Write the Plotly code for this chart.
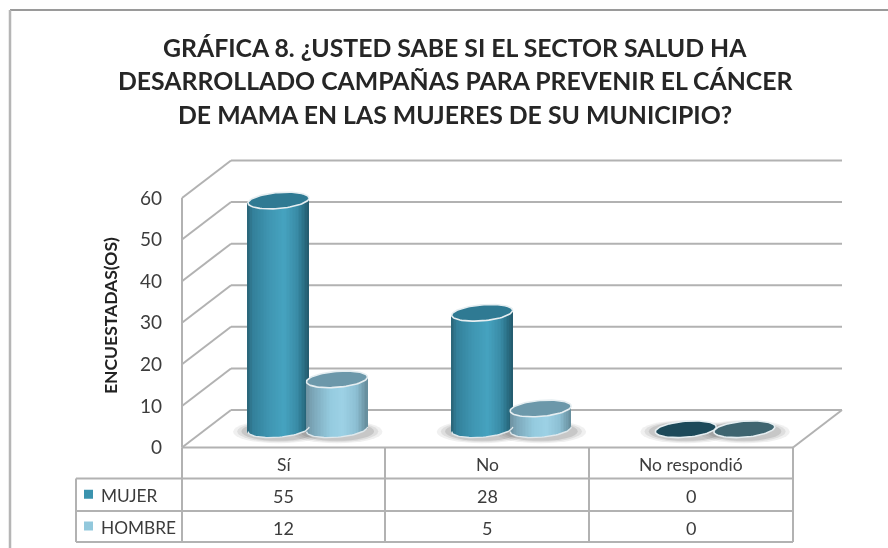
import numpy as np
import plotly.graph_objects as go

categories = ["Sí", "No", "No respondió"]
mujer = [55, 28, 0]
hombre = [12, 5, 0]
tick_vals = [0, 10, 20, 30, 40, 50, 60]
title_lines = ["GRÁFICA 8. ¿USTED SABE SI EL SECTOR SALUD HA",
               "DESARROLLADO CAMPAÑAS PARA PREVENIR EL CÁNCER",
               "DE MAMA EN LAS MUJERES DE SU MUNICIPIO?"]

W, H = 888, 548
X0, X3 = 182.0, 793.0
Y0, Y60 = 447.5, 198.0
UX = (X3 - X0) / 3
UY = (Y0 - Y60) / 60
DX = 49 / UX
DY = 37.5 / UY
GRID = "#b2b2b2"
TXT = "#3c3c3c"
px = lambda p: (p - X0) / UX
py = lambda p: (Y0 - p) / UY

fig = go.Figure()
shapes = []
annotations = []


def line(x0, y0, x1, y1, color=GRID, width=2):
    shapes.append(dict(type="line", xref="x", yref="y", x0=x0, y0=y0, x1=x1, y1=y1,
                       line=dict(color=color, width=width), layer="below"))


# walls / floor
for v in tick_vals:
    line(0, v, DX, v + DY)
    line(DX, v + DY, 3 + DX, v + DY)
line(0, 0, 0, 60)
line(0, 0, 3, 0)
line(3, 0, 3 + DX, DY)

# cylinders
A = 30.5 / UX
E = 8.0 / UY
TILT = 2.4 / UY
BASE = DY / 2 - 0.5 / UY
N = 40
u = (np.arange(N) + 0.5) / N * 2 - 1
sw = 2 * A / N * 1.15

stops_m = [(-1, "#2a6377"), (-0.82, "#33809a"), (-0.3, "#3f96b2"), (0.2, "#46a3c0"),
           (0.62, "#3a8ca7"), (0.86, "#2a6f85"), (1, "#245a6c")]
stops_h = [(-1, "#6d909f"), (-0.75, "#7da9bb"), (-0.2, "#95cbdf"), (0.2, "#9dd2e6"),
           (0.65, "#8dbfd3"), (1, "#668d9c")]


def hexrgb(c):
    return np.array([int(c[i:i + 2], 16) for i in (1, 3, 5)], float)


def grad(stops):
    xs = [s[0] for s in stops]
    cols = np.array([hexrgb(s[1]) for s in stops])
    out = []
    for t in u:
        c = [np.interp(t, xs, cols[:, k]) for k in range(3)]
        out.append("rgb(%d,%d,%d)" % tuple(c))
    return out


series = [("MUJER", mujer, px(278.5), stops_m, "#2f7a93", "#1d4a5a"),
          ("HOMBRE", hombre, px(337), stops_h, "#6c98aa", "#3f6570")]

t = np.linspace(0, 2 * np.pi, 80)
for name, vals, first, stops, top_col, zero_col in series:
    xs, ys, bases, cols = [], [], [], []
    g = grad(stops)
    for i, v in enumerate(vals):
        cx = first + i
        # soft shadow on the floor
        for k, alpha in zip((1.0, 0.7, 0.4), (0.10, 0.14, 0.20)):
            shapes.append(dict(type="circle", xref="x", yref="y",
                               x0=cx - A - (14 * k + 1) / UX, x1=cx + A + (14 * k + 1) / UX,
                               y0=BASE - 2 / UY - E - (4 * k) / UY, y1=BASE - 2 / UY + E + (3 * k) / UY,
                               fillcolor="rgba(110,110,110,%.2f)" % alpha,
                               line=dict(width=0), layer="below"))
        if v <= 0:
            continue
        for uu, c in zip(u, g):
            arc = E * np.sqrt(1 - uu * uu)
            xs.append(cx + uu * A)
            bases.append(BASE + TILT * uu - arc)
            ys.append(v + arc)
            cols.append(c)
    fig.add_trace(go.Bar(x=xs, y=ys, base=bases, width=sw, marker=dict(color=cols, line=dict(width=0)),
                         name=name, showlegend=False, hoverinfo="skip"))

for name, vals, first, stops, top_col, zero_col in series:
    for i, v in enumerate(vals):
        cx = first + i
        yc = BASE + v
        ex = cx + A * np.cos(t)
        ey = yc + E * np.sin(t) + TILT * np.cos(t)
        fig.add_trace(go.Scatter(x=ex, y=ey, mode="lines", fill="toself",
                                 fillcolor=top_col if v > 0 else zero_col,
                                 line=dict(color="#e6eef1", width=1.6), showlegend=False, hoverinfo="skip"))
        if v > 0:
            lo = np.linspace(np.pi, 2 * np.pi, 40)
            fig.add_trace(go.Scatter(x=cx + A * np.cos(lo), y=BASE + E * np.sin(lo) + TILT * np.cos(lo),
                                     mode="lines", line=dict(color="#dfe8ec", width=1.4),
                                     showlegend=False, hoverinfo="skip"))


def pl(x0, y0, x1, y1, color=GRID, width=2):
    shapes.append(dict(type="line", xref="paper", yref="paper", x0=x0 / W, x1=x1 / W,
                       y0=1 - y0 / H, y1=1 - y1 / H, line=dict(color=color, width=width), layer="below"))


def text(x, y, s, size=15, color=TXT, bold=False, angle=0, anchor="center"):
    annotations.append(dict(xref="paper", yref="paper", x=x / W, y=1 - y / H, text="<b>%s</b>" % s if bold else s,
                            showarrow=False, xanchor=anchor, yanchor="middle", textangle=angle,
                            font=dict(family="Lato, Carlito, sans-serif", size=size, color=color)))


# outer frame
pl(10, 10, 888, 10, "#9a9a9a", 2)
pl(10, 10, 10, 548, "#b5b5b5", 2.5)

# data table
R = [447.5, 478.5, 511, 542]
C = [76, 182, 385, 589, 793]
for c in C[1:]:
    pl(c, R[0], c, R[3])
pl(C[0], R[1], C[0], R[3])
pl(C[0], R[1], C[4], R[1])
pl(C[0], R[2], C[4], R[2])
pl(C[0], R[3], C[4], R[3])

rows_y = [(R[1] + R[2]) / 2, (R[2] + R[3]) / 2]
for i, cat in enumerate(categories):
    cx = (C[i + 1] + C[i + 2]) / 2
    text(cx, (R[0] + R[1]) / 2 + 1.5, cat, 17.5)
    text(cx, rows_y[0] + 1, str(mujer[i]), 18)
    text(cx, rows_y[1] + 1, str(hombre[i]), 18)
for (name, vals, first, stops, top_col, zero_col), ry, col in zip(series, rows_y, ("#3a93ae", "#92c8dc")):
    text(99, ry + 1, name, 17.3, anchor="left")
    shapes.append(dict(type="rect", xref="paper", yref="paper", x0=84 / W, x1=93 / W,
                       y0=1 - (ry - 5) / H, y1=1 - (ry + 4) / H, fillcolor=col, line=dict(width=0), layer="below"))

text(110, 316, "ENCUESTADAS(OS)", 17.5, "#222222", bold=True, angle=-90)
for ln, y in zip(title_lines, (47, 80, 114)):
    text(455, y, ln, 24.8, "#262626", bold=True)

fig.update_layout(
    width=W, height=H, margin=dict(l=0, r=0, t=0, b=0), autosize=False,
    paper_bgcolor="white", plot_bgcolor="white", barmode="overlay", bargap=0,
    showlegend=False, shapes=shapes, annotations=annotations,
    xaxis=dict(range=[px(0), px(W)], visible=False, fixedrange=True),
    yaxis=dict(range=[py(H), py(0)], tickvals=tick_vals, showgrid=False, zeroline=False, showline=False,
               ticks="", anchor="free", position=162 / W,
               tickfont=dict(family="Lato, Carlito, sans-serif", size=19, color=TXT), fixedrange=True),
)
fig.write_html("out.html", config=dict(displayModeBar=False),
               post_script="document.body.style.margin='0';document.documentElement.style.overflow='hidden';document.body.style.filter='blur(0.5px)';")
